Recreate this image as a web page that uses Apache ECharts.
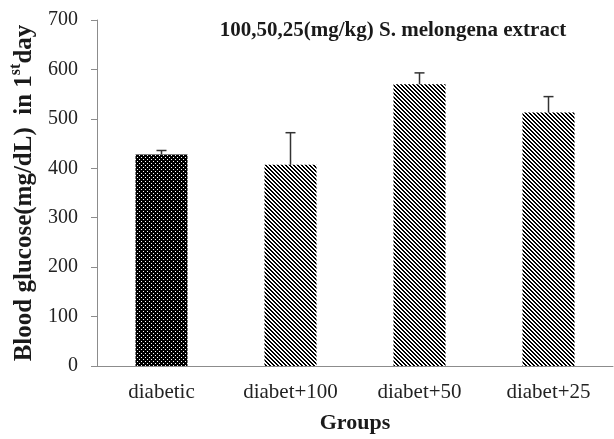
<!DOCTYPE html>
<html><head><meta charset="utf-8">
<script src="https://cdn.jsdelivr.net/npm/echarts@6/dist/echarts.min.js"></script>
<style>html,body{margin:0;padding:0;background:#fff}#c{width:614px;height:439px}</style>
</head><body><div id="c"></div>
<script>
var categories = ['diabetic', 'diabet+100', 'diabet+50', 'diabet+25'];
var means = [428, 407, 570, 513];
var errors = [8, 65, 23, 32];
var yTicks = [0, 100, 200, 300, 400, 500, 600, 700];

function makePattern(type) {
  var c = document.createElement('canvas');
  var ctx = c.getContext('2d');
  c.width = 4; c.height = 4;
  if (type === 'dots') {
    ctx.fillStyle = '#000'; ctx.fillRect(0, 0, 4, 4);
    ctx.fillStyle = '#fff';
    ctx.fillRect(1, 1, 1, 1);
    ctx.fillRect(3, 3, 1, 1);
  } else {
    ctx.fillStyle = '#fff'; ctx.fillRect(0, 0, 4, 4);
    ctx.fillStyle = '#000';
    for (var x = 0; x < 4; x++) for (var y = 0; y < 4; y++) {
      var d = ((x - y) % 4 + 4) % 4;
      if (d === 0 || d === 1) ctx.fillRect(x, y, 1, 1);
    }
  }
  return { image: c, repeat: 'repeat' };
}
var dotPat = makePattern('dots');
var stripePat = makePattern('stripes');

var serif = '"Liberation Serif", "Times New Roman", serif';
var chart = echarts.init(document.getElementById('c'));
chart.setOption({
  animation: false,
  backgroundColor: '#fff',
  title: {
    text: '100,50,25(mg/kg) S. melongena extract',
    left: 388, top: 15, textAlign: 'center',
    textStyle: { fontFamily: serif, fontWeight: 'bold', fontSize: 21, color: '#1a1a1a' }
  },
  grid: { left: 97, right: 1, top: 20, bottom: 72, containLabel: false },
  xAxis: {
    type: 'category', data: categories,
    axisLine: { lineStyle: { color: '#8c8c8c', width: 1 } },
    axisTick: { show: false },
    axisLabel: { fontFamily: serif, fontSize: 21, color: '#222', margin: 16 },
    name: 'Groups', nameLocation: 'middle', nameGap: 46,
    nameTextStyle: { fontFamily: serif, fontWeight: 'bold', fontSize: 22, color: '#1a1a1a' }
  },
  yAxis: {
    type: 'value', min: 0, max: 700, interval: 100,
    axisLine: { show: true, lineStyle: { color: '#8c8c8c', width: 1 } },
    axisTick: { show: true, length: 6, lineStyle: { color: '#8c8c8c' } },
    splitLine: { show: false },
    axisLabel: { fontFamily: serif, fontSize: 20, color: '#222', margin: 19,
      formatter: function (v) { return yTicks.indexOf(v) >= 0 ? String(v) : ''; } },
    name: '{a|Blood glucose(mg/dL)  in 1}{s|st}{a|day}',
    nameLocation: 'middle', nameGap: 56, nameRotate: 90,
    nameTextStyle: {
      rich: {
        a: { fontFamily: serif, fontWeight: 'bold', fontSize: 25, color: '#1a1a1a', lineHeight: 29, verticalAlign: 'bottom' },
        s: { fontFamily: serif, fontWeight: 'bold', fontSize: 16, color: '#1a1a1a', lineHeight: 29, verticalAlign: 'top' }
      }
    }
  },
  series: [{
    type: 'bar', barWidth: 52,
    data: means.map(function (v, i) {
      return { value: v, itemStyle: { color: i === 0 ? dotPat : stripePat } };
    }),
    z: 2
  }, {
    type: 'custom',
    data: means.map(function (v, i) { return [i, v, v + errors[i]]; }),
    renderItem: function (params, api) {
      var p0 = api.coord([api.value(0), api.value(1)]);
      var p1 = api.coord([api.value(0), api.value(2)]);
      var hw = 5;
      var st = { stroke: '#333', lineWidth: 1.5 };
      return { type: 'group', children: [
        { type: 'line', shape: { x1: p0[0], y1: p0[1], x2: p1[0], y2: p1[1] }, style: st },
        { type: 'line', shape: { x1: p1[0] - hw, y1: p1[1], x2: p1[0] + hw, y2: p1[1] }, style: st }
      ] };
    },
    z: 3
  }]
});
</script></body></html>
